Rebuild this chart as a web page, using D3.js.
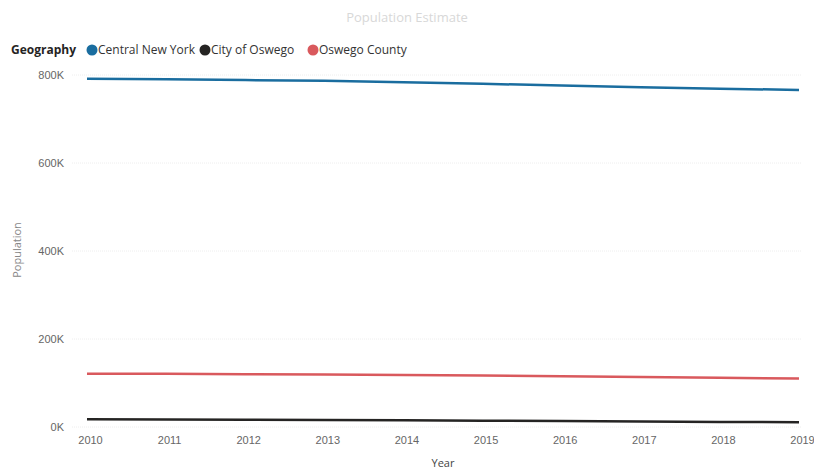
<!DOCTYPE html>
<html>
<head>
<meta charset="utf-8">
<script src="https://cdn.jsdelivr.net/npm/d3@7"></script>
<style>
  body { margin: 0; background: #fff; }
  svg { display: block; font-family: "Open Sans", "Noto Sans", sans-serif; }
</style>
</head>
<body>
<div id="chart"></div>
<script>
const years = [2010, 2011, 2012, 2013, 2014, 2015, 2016, 2017, 2018, 2019];
const seriesNames = ["Central New York", "City of Oswego", "Oswego County"];
const centralNewYork = [791600, 790200, 788500, 786800, 783800, 780000, 776000, 772000, 769000, 766000];
const cityOfOswego = [17500, 17100, 16600, 16000, 15200, 14300, 13400, 12600, 11600, 10700];
const oswegoCounty = [121200, 120800, 120100, 119300, 118300, 116800, 115300, 113500, 111900, 110300];
const yTicks = [0, 200000, 400000, 600000, 800000];
const colors = ["#1a6d9f", "#252423", "#d9595d"];

const width = 814, height = 471;
const marginLeft = 87, marginRight = 15, marginTop = 75, marginBottom = 44;

const svg = d3.select('#chart').append('svg')
    .attr('width', width)
    .attr('height', height);

const x = d3.scalePoint()
    .domain(years)
    .range([marginLeft, width - marginRight]);

const y = d3.scaleLinear()
    .domain([0, 800000])
    .range([height - marginBottom, marginTop]);

// gridlines
svg.append('g')
    .selectAll('line')
    .data(yTicks)
    .join('line')
    .attr('x1', 72)
    .attr('x2', width - 12)
    .attr('y1', d => y(d))
    .attr('y2', d => y(d))
    .attr('stroke', '#eeeeee')
    .attr('stroke-width', 1)
    .attr('stroke-dasharray', '1,1');

// y axis
const yAxis = svg.append('g')
    .attr('transform', `translate(64,0)`)
    .call(d3.axisLeft(y).tickValues(yTicks).tickSize(0).tickPadding(0)
        .tickFormat(d => (d / 1000) + 'K'));
yAxis.select('.domain').remove();
yAxis.selectAll('text').attr('fill', '#666').style('font-size', '11px');

// x axis
const xAxis = svg.append('g')
    .attr('transform', `translate(3,${height - marginBottom + 9})`)
    .call(d3.axisBottom(x).tickSize(0).tickPadding(0).tickFormat(d3.format('d')));
xAxis.select('.domain').remove();
xAxis.selectAll('text').attr('fill', '#666').style('font-size', '11px');

// axis titles
svg.append('text')
    .attr('x', 443)
    .attr('y', 467)
    .attr('text-anchor', 'middle')
    .attr('fill', '#444')
    .style('font-size', '11px')
    .text('Year');

svg.append('text')
    .attr('transform', 'rotate(-90)')
    .attr('x', -250)
    .attr('y', 21)
    .attr('text-anchor', 'middle')
    .attr('fill', '#888')
    .style('font-size', '11px')
    .text('Population');

// lines
const series = [centralNewYork, cityOfOswego, oswegoCounty];
const line = d3.line()
    .x((d, i) => x(years[i]))
    .y(d => y(d));

svg.append('g')
    .selectAll('path')
    .data(series)
    .join('path')
    .attr('fill', 'none')
    .attr('stroke', (d, i) => colors[i])
    .attr('stroke-width', 2.5)
    .attr('d', line);

// title
svg.append('text')
    .attr('x', 407)
    .attr('y', 22)
    .attr('text-anchor', 'middle')
    .attr('fill', '#d8d8d8')
    .style('font-size', '13px')
    .text('Population Estimate');

// legend
const legend = svg.append('g').attr('transform', 'translate(0,50)');
legend.append('text')
    .attr('x', 11)
    .attr('y', 4)
    .attr('fill', '#252423')
    .style('font-size', '12px')
    .style('font-weight', 'bold')
    .text('Geography');

const legendX = [92, 205, 313];
seriesNames.forEach((name, i) => {
    legend.append('circle')
        .attr('cx', legendX[i])
        .attr('cy', 0)
        .attr('r', 5.5)
        .attr('fill', colors[i]);
    legend.append('text')
        .attr('x', legendX[i] + 6)
        .attr('y', 4)
        .attr('fill', '#333')
        .style('font-size', '12px')
        .text(name);
});
</script>
</body>
</html>
